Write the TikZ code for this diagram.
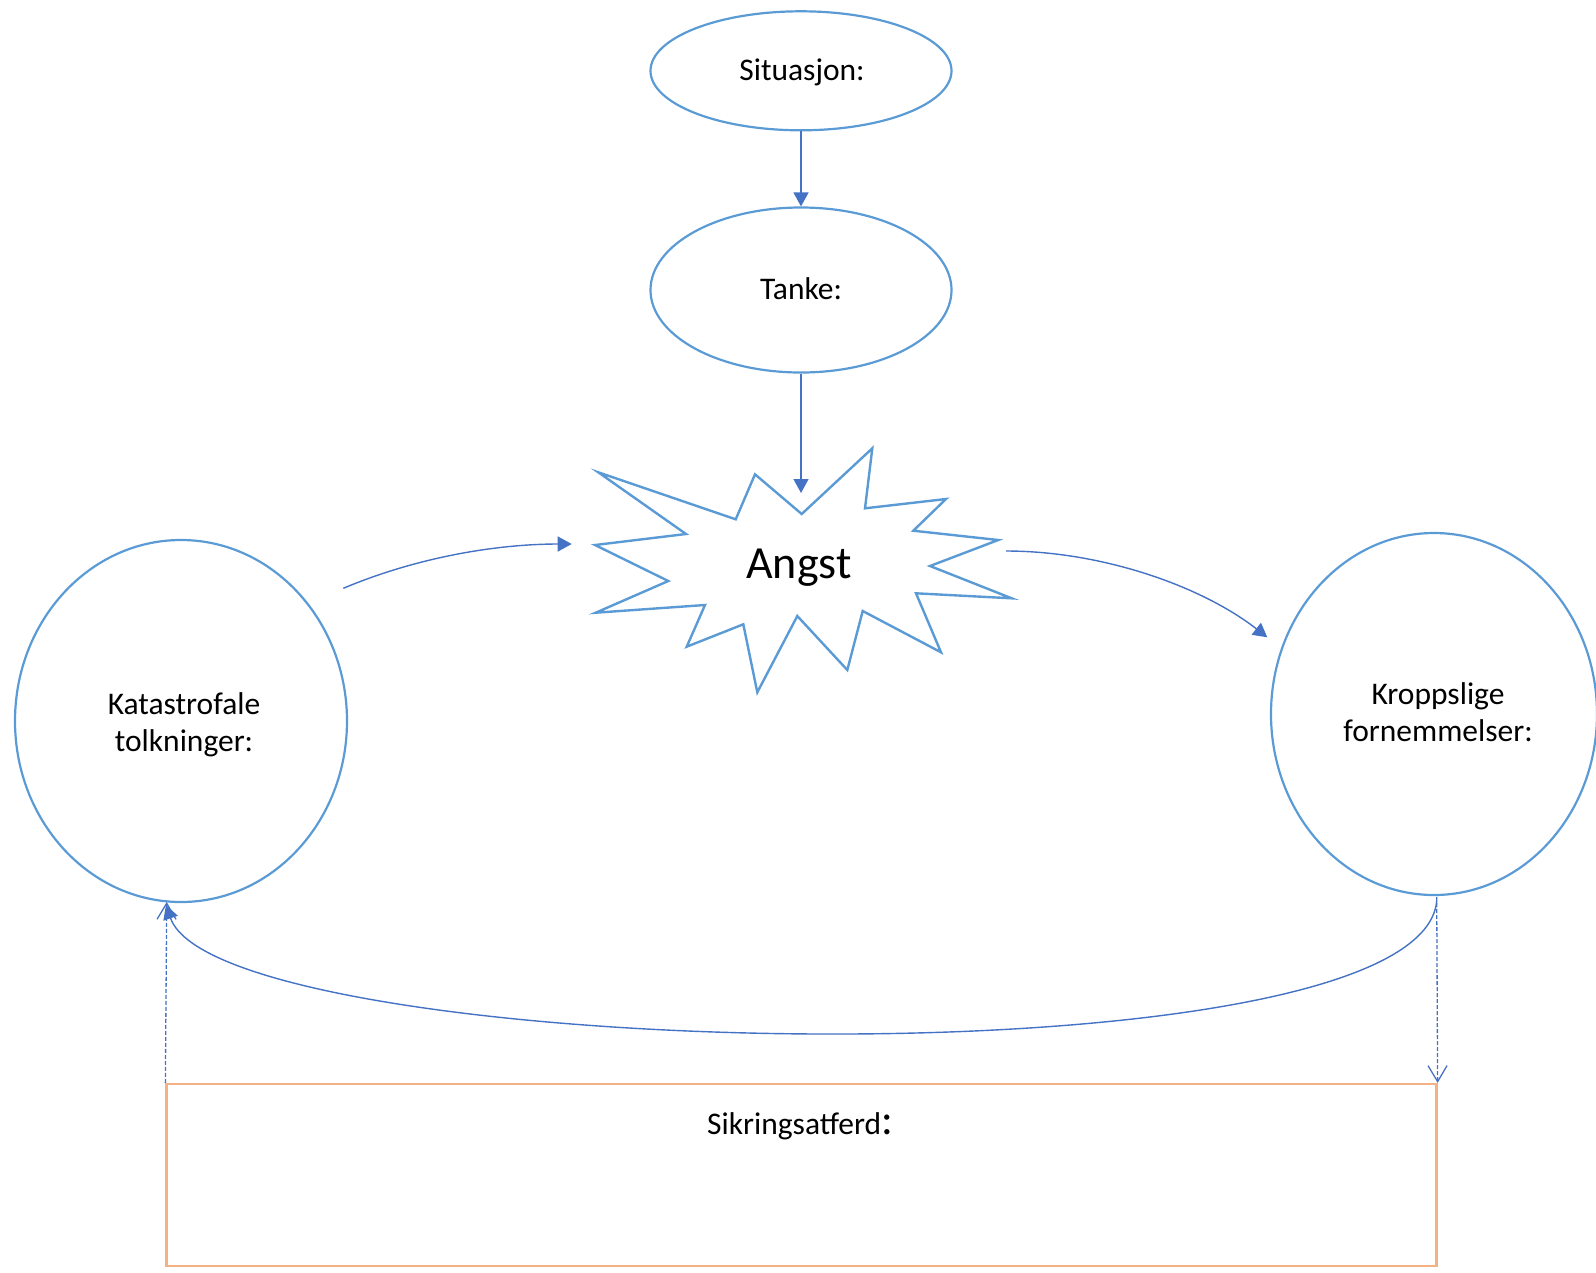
\documentclass[tikz,border=0pt]{standalone}
\usepackage{fontspec}
\setmainfont{Carlito}
\usetikzlibrary{shapes.geometric,arrows.meta}
\definecolor{shapeblue}{HTML}{5B9BD5}
\definecolor{arrowblue}{HTML}{4472C4}
\definecolor{boxorange}{HTML}{F4B183}
\tikzset{
  oval/.style={ellipse,draw=shapeblue,line width=2.2bp,inner sep=0pt},
  lbl/.style={anchor=base,inner sep=0pt,font=\fontsize{31.5bp}{37.4bp}\selectfont},
  conn/.style={draw=arrowblue,line width=1.4bp,-{Triangle[length=14bp,width=15bp]}},
  dashconn/.style={draw=arrowblue,line width=1.3bp,dash pattern=on 4bp off 2bp,
    -{Straight Barb[length=16bp,width=19bp,line width=1.3bp]}},
}
\begin{document}
\begin{tikzpicture}[x=1bp,y=-1bp]
\useasboundingbox (0,0) rectangle (1596,1272);
% ovals
\node[oval,minimum width=301bp,minimum height=119bp] (sit) at (801,70.8) {};
\node[oval,minimum width=301bp,minimum height=165bp] (tan) at (801,290) {};
\node[oval,minimum width=332bp,minimum height=362bp] (kat) at (181,721) {};
\node[oval,minimum width=326bp,minimum height=362bp] (kro) at (1434,714) {};
\node[lbl] (sittxt) at (802,80.7) {Situasjon:};
\node[lbl] (tantxt) at (801,299.3) {Tanke:};
\node[lbl,align=center] (kattxt) at (184,751.7) {Katastrofale\\tolkninger:};
\node[lbl,align=center] (krotxt) at (1438,741.7) {Kroppslige\\fornemmelser:};
% starburst
\draw[shapeblue,line width=2.4bp,line join=miter,fill=white]
  (598.3,472.3) -- (735.7,519.3) -- (755,474.3) -- (801.7,514) -- (872.3,448.3)
  -- (865,508.3) -- (946,499) -- (913.3,530.7) -- (998.3,540) -- (930,566)
  -- (1011.7,598.3) -- (916,593.3) -- (941,652.3) -- (862.7,611) -- (847.3,670)
  -- (797.3,616) -- (757.3,692.3) -- (743.3,624.3) -- (686.7,646.7) -- (705,605)
  -- (595.7,612.7) -- (668.3,581) -- (595,545) -- (686,534) -- cycle;
\node[anchor=base,inner sep=0pt,font=\fontsize{46bp}{50bp}\selectfont] (angst) at (799,578) {Angst};
% box
\node[draw=boxorange,line width=2.2bp,minimum width=1270bp,minimum height=182bp,inner sep=0pt] (sik) at (801.5,1175) {};
\node[anchor=base,inner sep=0pt,font=\fontsize{31.5bp}{37.4bp}\selectfont] (siktxt) at (800,1134.5)
  {Sikringsatferd{\fontsize{44bp}{44bp}\selectfont :}};
% coordinates
\coordinate (angtop) at (801,493);
\coordinate (katout) at (343.3,588.3);
\coordinate (angleft) at (571.7,544);
\coordinate (angright) at (1006,551);
\coordinate (kroin) at (1267.3,637.3);
\coordinate (krobot) at (1436.7,901);
\coordinate (katbot) at (166,905);
\coordinate (krodash) at (1436.7,897);
\coordinate (katdash) at (166.7,902);
% connectors
\draw[conn] (sit.south) -- (tan.north);
\draw[conn] (tan.south) -- (angtop);
\draw[conn] (katout) .. controls (420,556) and (500,544) .. (angleft);
\draw[conn] (angright) .. controls (1100,551) and (1200,585) .. (kroin);
\draw[conn] (krobot) .. controls (1420,1090) and (220,1061) .. (katbot);
\draw[dashconn] (sik.north west) -- (katdash);
\draw[dashconn] (krodash) -- (sik.north east);
\end{tikzpicture}
\end{document}
